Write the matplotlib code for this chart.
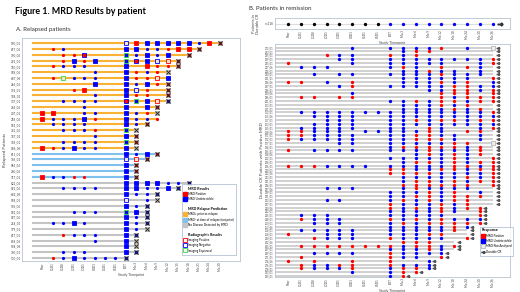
import matplotlib.pyplot as plt
from matplotlib.lines import Line2D

plt.rcParams['font.family'] = ['Lato', 'DejaVu Sans']

# ---------------- Panel A: relapsed patients ----------------
a_times = ["Prior", "C1D1", "C1D8", "C2D1", "C3D1", "C4D1", "C5D1", "C6D1", "EOT",
           "Mo 3", "Mo 6", "Mo 9", "Mo 12", "Mo 15", "Mo 18", "Mo 21", "Mo 24", "Mo 30"]
a_patients = ["950_01", "617_06", "190_06", "291_01", "110_01", "958_06", "647_06", "266_06",
              "192_01", "148_01", "137_01", "298_06", "207_01", "218_06", "931_01", "331_06",
              "147_01", "188_01", "946_06", "611_01", "186_01", "962_06", "280_06", "117_01",
              "622_06", "921_06", "642_06", "958_01", "596_06", "932_06", "927_06", "254_01",
              "179_01", "617_01", "898_06", "594_06", "790_01", "100_01"]
# relapse prediction group: pre = MRD+ prior to relapse, rel = MRD- at relapse, none = no disease
a_group = ["pre"] * 19 + ["rel"] * 5 + ["none"] * 14
# tokens: r/b small dot, R/B square, second char n/p/e imaging edge, X = relapse cross, - = no MRD
a_rows = [
    ". . . . . . . . -n R B B B B B b R RX",
    ". r b . . . . . B B b b r R R RX",
    ". . r r Rn . . . Be b B b Bn . RX",
    ". . r Bn r B . . Be Rn Bn -n -p RX",
    ". r b b b . . . B . R r r RX",
    ". . . . . b . . B r b r -X",
    ". r -e b b b . . B r r -p B",
    ". . . . . B . . B b B r RX",
    ". . . r R . . . B -n r . RX",
    ". . . . . b . . B r r . RX",
    ". . b b b b . . Rn Be Bn -p BX",
    ". . . . b . . . B . Bn RX",
    "R R . . b b . . B b r -X",
    "R b b b Bn r . . B b b r",
    ". b b b b . . . B b RX",
    ". . b b b r . . Be -X",
    ". . . . . b . . B RX",
    ". . b b b b . . Be RX",
    "R r b B b b . . B -X",
    ". . . . . . . . B b B RX",
    ". . . . . . . . -n -p RX",
    ". . . . . . . . B RX",
    ". . . . . . . . B RX",
    "R b b r r . . . B RX",
    ". . . . . . . . B B B B b b BX",
    ". . b b b b . . B B b b B BX",
    ". . . . . . . . B b b BX",
    ". . . . . . . . -n . b -X",
    ". . . . . . . . B b BX",
    ". . . b b b . . Be B BX",
    ". . . . . . . . B b BX",
    ". b b B b . . . B b BX",
    ". . . . . . . . B b -X",
    ". . r b b b . . B BX",
    ". . . . . b . . B -X",
    ". . . . . . . . B -X",
    ". . b b b . . . B BX",
    ". r b B b b b b BX",
]

# ---------------- Panel B: patients in remission ----------------
b_times = ["Prior", "C1D1", "C1D8", "C2D1", "C3D1", "C4D1", "C5D1", "C6D1", "EOT",
           "Mo 3", "Mo 6", "Mo 9", "Mo 12", "Mo 18", "Mo 24", "Mo 30", "Mo 36"]
b_patients = ["272_01", "263_01", "225_01", "209_01", "235_01", "217_06", "214_01", "280_01",
              "281_01", "286_06", "287_01", "236_01", "200_06", "296_01", "301_01", "103_01",
              "181_01", "152_01", "155_06", "157_01", "163_01", "165_01", "168_06", "171_01",
              "172_01", "177_01", "184_01", "195_01", "198_06", "202_01", "204_01", "206_01",
              "210_01", "212_06", "213_01", "221_01", "224_01", "227_06", "229_01", "231_01",
              "233_01", "237_01", "240_06", "242_01", "245_01", "248_01", "250_01", "253_06",
              "256_01", "258_01", "260_01", "262_06", "265_01", "267_01", "269_01", "271_01",
              "274_06", "276_01", "278_01", "283_01", "285_01"]
# r = MRD positive, b = MRD undetectable, g = not analyzed
b_rows = [
    ".....b..bbbbr.b.g", ".........brr.....", "...rbb..rbr......", "....bb..bbbbbbbbr",
    "r....b..bbbbb..br", ".bbb....brb.r.rb.", ".........bbrbb.b.", "..b.bb..bbbbrbbb.",
    ".........bbbbbb.r", "rr.b.r...bbbrbr.b", "....br..bbbbbrrbb", "...........bbrrbr",
    ".....b......rrr.r", ".rr.rr......rbrrr", "........bbrbrrbrr", ".........bbbrbr..",
    ".........bbbbrbr.", ".bbbbbbbbbbbbbbbr", "..bbbb..bbbbbbbbb", "...bbb..bbrbrrbrr",
    "..bbbb..bbbbbbbbb", ".bbbbb..bb.rb..br", "rrbbb.bbbbbrb.rr.", "rrbbbb..bbrrbb.b.",
    "rbbbbb..bbrrrb.b.", "....bb..bbbbbrr.g", "........brrrrrbr.", "r.bbbb..bbbrbbbr.",
    "..........brbrbr.", "........bbbbbrb.r", ".........brrbrbrr", "rrrbbbb.bbbbbrrbr",
    "........rrbbrrbrr", "........rrrrbbbbr", ".........bbbbbrbr", ".........brrbrbrr",
    ".........rrrrrr.r", "...bbb...brbbbb..", "........bbbrbr.b.", "........bbrrbrrr.",
    "...bb...brbrbrr..", "........rbbbrbr..", "........rbrbrbrr.", "........bbbbrb.r.",
    ".bbb....bbbbb..r.", ".rbbb...rbrbrbbb.", "..bbb...brbrrrrr.", "........bbbbbrb..",
    ".bbbbb..bbbbbr...", "r..bbb..bbbrr....", "..rbbb..rbbbb.r..", ".........rrr.....",
    ".rrrrrrrrbrrbr...", "........bbbrb....", "..bbbb..rbbbb....", ".r......rbb.r....",
    "r.r..r..r..b.....", ".rbbrr..rbbb.....", ".rbbbr..brrb.....", ".....b..brr......",
    "........br.......",
]
b_end = [16, 16, 16, 16, 16, 16, 16, 16, 16, 16, 16, 16, 16, 16, 16, 16, 16, 16, 16, 16, 16,
         16, 16, 16, 16, 16, 16, 16, 16, 16, 16, 16, 16, 16, 16, 16, 16, 16, 16, 16, 16, 16,
         15, 15, 15, 15, 15, 14, 14, 14, 14, 13, 13, 13, 12, 12, 11, 11, 11, 10, 9]
top_label = "n=218"

RED, BLUE, GREEN = "#ff0000", "#0000ff", "#33dd33"
group_colors = {"pre": "#f9b233", "rel": "#80c0ec", "none": "#c4c4c4"}
PALE = "#f2e4cc"

W, H = 520, 292
fig = plt.figure(figsize=(5.2, 2.92), dpi=100)


def px_axes(x0, y0, x1, y1):
    return fig.add_axes([x0 / W, 1 - y1 / H, (x1 - x0) / W, (y1 - y0) / H])


def style_axes(ax):
    for s in ax.spines.values():
        s.set_color("#b8c4d0")
        s.set_linewidth(0.6)
    ax.tick_params(length=0, pad=1, labelsize=2.2, labelcolor="#444444")


fig.text(15 / W, 1 - 12 / H, "Figure 1. MRD Results by patient", fontsize=6.4,
         weight="bold", va="center")
fig.text(16 / W, 1 - 29 / H, "A. Relapsed patients", fontsize=4.4, va="center", color="#333333")
fig.text(249 / W, 1 - 8 / H, "B. Patients in remission", fontsize=4.4, va="center", color="#333333")

# ---- panel A ----
axA = px_axes(22, 38, 240, 261)
style_axes(axA)
axA.set_xlim(-1.94, 18.92)
axA.set_ylim(37.53, -0.91)
for i, row in enumerate(a_rows):
    toks = row.split()
    last = max(j for j, t in enumerate(toks) if t != ".")
    axA.plot([-1, last], [i, i], color=group_colors[a_group[i]], lw=1.5,
             solid_capstyle="butt", zorder=1)
    for j, t in enumerate(toks):
        if t == ".":
            continue
        if t in ("r", "b"):
            axA.plot(j, i, "o", ms=2.3, color=RED if t == "r" else BLUE, mec="none", zorder=3)
            continue
        fill = {"R": RED, "B": BLUE, "-": PALE}[t[0]]
        edge = {"n": BLUE, "p": RED, "e": GREEN}.get(t[1:2], "#aaaaaa" if t[0] == "-" else fill)
        if "X" in t:
            edge = "#bbbbbb"
        axA.plot(j, i, "s", ms=3.4, color=fill, mec=edge, mew=0.6, zorder=3)
        if "X" in t:
            axA.plot(j, i, "x", ms=2.6, color="#222222", mew=0.7, zorder=4)
axA.set_yticks(range(len(a_patients)))
axA.set_yticklabels(a_patients)
axA.set_xticks(range(len(a_times)))
axA.set_xticklabels(a_times, rotation=90)
axA.set_xlabel("Study Timepoint", fontsize=2.6, labelpad=1, color="#444444")
fig.text(5 / W, 1 - 150 / H, "Relapsed Patients", fontsize=3.2, rotation=90,
         ha="center", va="center", color="#444444")


def hdr(label):
    return Line2D([], [], linestyle="none", label=label)


legA = [
    hdr("MRD Results"),
    Line2D([], [], marker="s", ls="none", ms=2.2, color=RED, label="MRD Positive"),
    Line2D([], [], marker="s", ls="none", ms=2.2, color=BLUE, label="MRD Undetectable"),
    hdr(" "),
    hdr("MRD Relapse Prediction"),
    Line2D([], [], marker="s", ls="none", ms=3, color=group_colors["pre"], label="MRD+ prior to relapse"),
    Line2D([], [], marker="s", ls="none", ms=3, color=group_colors["rel"], label="MRD- at time of relapse (not prior)"),
    Line2D([], [], marker="s", ls="none", ms=3, color=group_colors["none"], label="No Disease Detected by MRD"),
    hdr(" "),
    hdr("Radiographic Results"),
    Line2D([], [], marker="s", ls="none", ms=3, mfc="white", mec=RED, mew=0.6, label="Imaging Positive"),
    Line2D([], [], marker="s", ls="none", ms=3, mfc="white", mec=BLUE, mew=0.6, label="Imaging Negative"),
    Line2D([], [], marker="s", ls="none", ms=3, mfc="white", mec=GREEN, mew=0.6, label="Imaging Equivocal"),
]
lg = axA.legend(handles=legA, loc="lower right", bbox_to_anchor=(0.99, 0.02), fontsize=2.2,
                labelspacing=0.38, handlelength=0.8, handletextpad=0.5, borderpad=0.8,
                frameon=True, fancybox=False, edgecolor="#9fb4cc")
lg.get_frame().set_linewidth(0.6)
for txt in lg.get_texts():
    if txt.get_text() in ("MRD Results", "MRD Relapse Prediction", "Radiographic Results"):
        txt.set_fontweight("bold")
        txt.set_fontsize(2.6)

# ---- panel B top strip ----
axT = px_axes(275, 18, 510, 29)
style_axes(axT)
axT.set_xlim(-1.04, 17.37)
axT.set_ylim(-1, 1)
axT.plot([-1.04, len(b_times) - 1], [0, 0], color="#dddddd", lw=0.8, zorder=1)
for j in range(len(b_times)):
    axT.plot(j, 0, "o", ms=2.4, color="black" if j < 8 else BLUE, mec="none", zorder=3)
axT.plot(len(b_times) - 1 + 0.6, 0, marker=r"$\rightarrow$", ms=3.5, color="#333333")
axT.set_yticks([0])
axT.set_yticklabels([top_label])
axT.set_xticks(range(len(b_times)))
axT.set_xticklabels(b_times, rotation=90)
axT.set_xlabel("Study Timepoint", fontsize=2.6, labelpad=1, color="#444444")
fig.text(256 / W, 1 - 24 / H, "Patients in\nDurable CR", fontsize=3, rotation=90,
         ha="center", va="center", color="#444444", linespacing=1.0)

# ---- panel B main ----
axB = px_axes(275, 44, 510, 277)
style_axes(axB)
axB.set_xlim(-1.04, 17.37)
axB.set_ylim(60.26, -0.97)
for i, row in enumerate(b_rows):
    axB.plot([-1.04, b_end[i]], [i, i], color="#c8c8c8", lw=1.2, solid_capstyle="butt", zorder=1)
    for j, c in enumerate(row):
        if c in "rb":
            axB.plot(j, i, "o", ms=2.4, color=RED if c == "r" else BLUE, mec="none", zorder=3)
        elif c == "g":
            axB.plot(j, i, "s", ms=2.4, mfc="#eeeeee", mec="#999999", mew=0.4, zorder=3)
    axB.plot(b_end[i] + 0.4, i, marker=r"$\rightarrow$", ms=1.9, color="#555555", zorder=3)
axB.set_yticks(range(len(b_patients)))
axB.set_yticklabels(b_patients, fontsize=1.8)
axB.set_xticks(range(len(b_times)))
axB.set_xticklabels(b_times, rotation=90)
axB.set_xlabel("Study Timepoint", fontsize=2.6, labelpad=1, color="#444444")
fig.text(262 / W, 1 - 160 / H, "Durable CR Patients with Positive MRD", fontsize=3.2,
         rotation=90, ha="center", va="center", color="#444444")

legB = [
    Line2D([], [], marker="s", ls="none", ms=2.2, color=RED, label="MRD Positive"),
    Line2D([], [], marker="s", ls="none", ms=2.2, color=BLUE, label="MRD Undetectable"),
    Line2D([], [], marker="s", ls="none", ms=2.2, mfc="#eeeeee", mec="#999999", mew=0.4, label="MRD Not Analyzed"),
    Line2D([], [], marker=r"$\rightarrow$", ls="none", ms=2.2, color="#444444", label="Durable CR"),
]
lgB = axB.legend(handles=legB, title="Response", loc="lower right", bbox_to_anchor=(1.02, 0.085),
                 fontsize=2.2, title_fontsize=2.8, labelspacing=0.45, handlelength=0.8,
                 handletextpad=0.5, borderpad=0.6, frameon=True, fancybox=False,
                 edgecolor="#9fb4cc", alignment="left")
lgB.get_frame().set_linewidth(0.6)
lgB.get_title().set_fontweight("bold")

fig.savefig("out.png", dpi=100)
